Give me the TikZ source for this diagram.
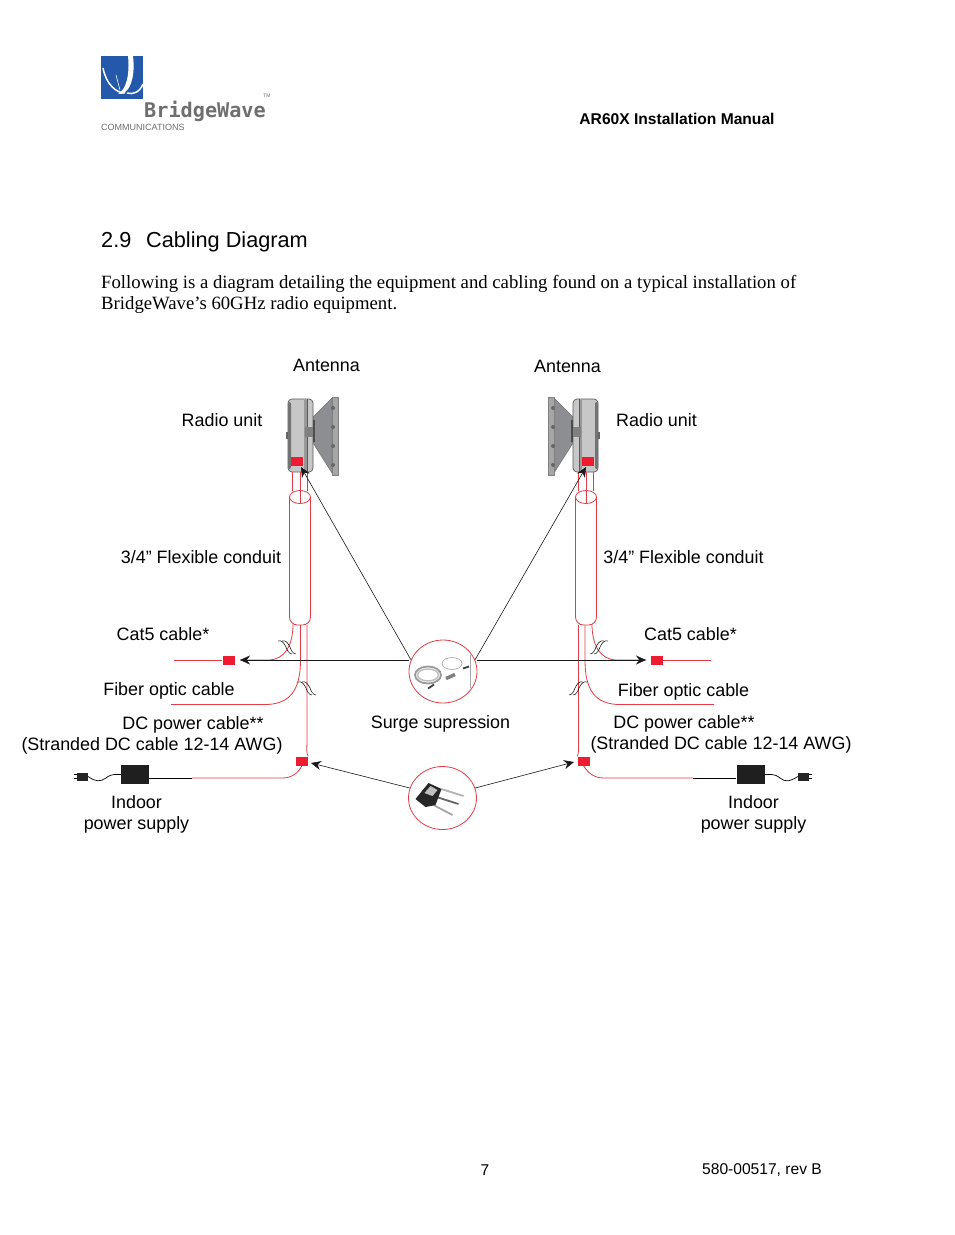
\documentclass[tikz,border=0pt]{standalone}
\usepackage{fontspec}
\setmainfont{Liberation Sans}
\newfontfamily\bodyfont{Liberation Serif}
\newfontfamily\logofont{DejaVu Sans Mono}
\usetikzlibrary{arrows.meta,positioning,calc,shapes.geometric}
\definecolor{cablered}{RGB}{226,60,70}
\definecolor{plugred}{RGB}{237,28,48}
\definecolor{logoblue}{RGB}{35,88,170}
\definecolor{logogray}{RGB}{110,110,112}
\definecolor{unitgray}{RGB}{140,142,146}
\newcommand{\sz}[1]{\fontsize{#1}{#1}\selectfont}
\tikzset{
	lbl/.style={inner sep=0pt,font=\sz{17.9}},
	lblc/.style={inner sep=0pt,align=center,font=\fontsize{17.9}{21}\selectfont},
	body/.style={inner sep=0pt,anchor=base west,font=\bodyfont\sz{18.73}},
	cable/.style={cablered,line width=0.8pt},
	wire/.style={black,line width=0.7pt},
	lead/.style={-{Stealth[length=10pt,width=9pt]},black!90,line width=0.6pt},
	plug/.style={fill=plugred,draw=none,inner sep=0pt,minimum width=12pt,minimum height=9pt},
	supply/.style={fill=black!88,draw=none,inner sep=0pt,minimum width=28pt,minimum height=19pt},
	adapter/.style={fill=black!85,draw=none,inner sep=0pt,minimum width=11pt,minimum height=8pt},
	surgering/.style={ellipse,draw=cablered,line width=0.8pt,inner sep=0pt,minimum width=68pt,minimum height=63pt},
	brk/.style={black,line width=0.5pt},
}
\newcommand{\radiounit}[2]{% x of the axis, direction of the horn
	\begin{scope}[shift={(#1,0)},xscale=#2]
		\draw[black!55,fill=unitgray,line width=0.5pt] (13,417) -- (32,398) -- (32,473) -- (13,443) -- cycle;
		\draw[black!50,fill=black!35,line width=0.5pt] (32,397) rectangle (38,475);
		\foreach \yy in {408,427,446,465} {
			\fill[black!60] (33,\yy) circle (2);
		}
		\draw[black!65,fill=black!22,line width=0.7pt,rounded corners=4pt] (-12,399) rectangle (13,472);
		\fill[black!55,rounded corners=2pt] (-12,402) rectangle (-9,469);
		\fill[black!40] (4,400) rectangle (7,471);
		\draw[black!65,line width=0.5pt] (7,399) -- (7,472);
		\fill[black!50] (5,427) rectangle (13,437);
		\fill[black!60] (-14,432) rectangle (-12,439);
		\fill[black!70] (13,420) rectangle (15,442);
	\end{scope}
}
\newcommand{\breakmark}[3]{% x, y, sign of the slant
	\draw[brk,shift={(#1,#2)},xscale=#3] (-9,-7) .. controls (-5,-8) and (-3,-5) .. (-1,-1) .. controls (0,2) and (2,6) .. (5,6);
	\draw[brk,shift={(#1,#2)},xscale=#3] (-5,-7) .. controls (-1,-8) and (1,-5) .. (3,-1) .. controls (4,2) and (6,6) .. (9,6);
}
\begin{document}
\begin{tikzpicture}[x=1pt,y=-1pt]
	\useasboundingbox (0,0) rectangle (954,1235);
	% logo
	\fill[logoblue] (101,56) rectangle (143,99);
	\draw[white,line width=1.5pt] (103,68) .. controls (106,84) and (116,93) .. (125,93);
	\fill[white] (128,56) .. controls (130,75) and (126,90) .. (118,94) .. controls (128,96) and (136,80) .. (133,56) -- cycle;
	\draw[white,line width=1.5pt] (143,84) .. controls (140,92) and (133,95) .. (127,93);
	\draw[white,line width=0.6pt] (116,75) -- (120,90);
	\node[inner sep=0pt,anchor=base west,text=logogray,font=\logofont\bfseries\sz{20.2}] (brand) at (144,117) {BridgeWave};
	\node[inner sep=0pt,anchor=base west,text=logogray,font=\sz{9}] (comm) at (101,130) {COMMUNICATIONS};
	\node[inner sep=0pt,text=logogray,font=\sz{5}] (tm) at (267,96) {TM};
	% page text
	\node[inner sep=0pt,font=\bfseries\sz{15.6}] (title) at (677,118.5) {AR60X Installation Manual};
	\node[inner sep=0pt,anchor=base west,font=\sz{21.7}] (secnum) at (101,247) {2.9};
	\node[inner sep=0pt,anchor=base west,font=\sz{21.7}] (sectitle) at (146,247) {Cabling Diagram};
	\node[body] (para1) at (101,288) {Following is a diagram detailing the equipment and cabling found on a typical installation of};
	\node[body] (para2) at (101,309) {BridgeWave’s 60GHz radio equipment.};
	\node[inner sep=0pt,font=\sz{15.6}] (pagenum) at (485,1170.5) {7};
	\node[inner sep=0pt,font=\sz{15.6}] (docnum) at (762,1170.5) {580-00517, rev B};
	% radio units
	\radiounit{300}{1}
	\radiounit{586}{-1}
	\node[plug] (plugA) at (296.5,461) {};
	\node[plug] (plugB) at (588,461) {};
	% labels
	\node[lbl] (antennaA) at (326.5,365) {Antenna};
	\node[lbl] (antennaB) at (567.5,366) {Antenna};
	\node[lbl] (radioA) at (222,420) {Radio unit};
	\node[lbl] (radioB) at (656.5,420) {Radio unit};
	\node[lbl] (conduitA) at (201,557) {3/4” Flexible conduit};
	\node[lbl] (conduitB) at (683.5,557) {3/4” Flexible conduit};
	\node[lbl] (catA) at (163,634) {Cat5 cable*};
	\node[lbl] (catB) at (690.5,634) {Cat5 cable*};
	\node[lbl] (fiberA) at (169,691) {Fiber optic cable};
	\node[lbl] (fiberB) at (683.5,692) {Fiber optic cable};
	\node[lbl] (dcA) at (193,725) {DC power cable**};
	\node[lbl] (dcB) at (684,724) {DC power cable**};
	\node[lbl] (awgA) at (152,746) {(Stranded DC cable 12-14 AWG)};
	\node[lbl] (awgB) at (721,745) {(Stranded DC cable 12-14 AWG)};
	\node[lblc] (indoorA) at (136.5,814.5) {Indoor\\power supply};
	\node[lblc] (indoorB) at (753.5,814.5) {Indoor\\power supply};
	\node[lbl] (surgelbl) at (440.5,724) {Surge supression};
	% conduits
	\foreach \cx/\nm in {300/A,586/B} {
		\draw[cable] (\cx-10.5,497) arc[start angle=180,end angle=-180,x radius=10.5,y radius=6.5];
		\draw[cable,rounded corners=8pt] (\cx-10.5,497) -- (\cx-10.5,625) -- (\cx+10.5,625) -- (\cx+10.5,497);
		\draw[cable] (\cx-7.5,472) -- (\cx-7.5,491) (\cx,472) -- (\cx,503) (\cx+7.5,472) -- (\cx+7.5,491);
	}
	% connectors
	\node[surgering] (surgering) at (443,671.5) {};
	\node[surgering] (dcring) at (442.5,798) {};
	\node[plug] (catplugA) at (228.5,660) {};
	\node[plug] (catplugB) at (657,660) {};
	\node[plug] (dcplugA) at (302,761) {};
	\node[plug] (dcplugB) at (583.5,761) {};
	\node[supply] (supplyA) at (135,774.5) {};
	\node[supply] (supplyB) at (750.5,774.5) {};
	\node[adapter] (adapterA) at (82.5,776.5) {};
	\node[adapter] (adapterB) at (803.5,776.5) {};
	\coordinate (endcatA) at (174,660);
	\coordinate (endcatB) at (711,660);
	\coordinate (endfiberA) at (171,704.5);
	\coordinate (endfiberB) at (714,704.5);
	\coordinate (redA) at (192,778);
	\coordinate (redB) at (693,778);
	\coordinate (tipcatA) at (240,660);
	\coordinate (tipcatB) at (646,660);
	\coordinate (tipradioA) at (301,467);
	\coordinate (tipradioB) at (586,467);
	\coordinate (tipdcA) at (311,763);
	\coordinate (tipdcB) at (574,762);
	\coordinate (ringcatA) at (surgering.west |- tipcatA);
	\coordinate (ringcatB) at (surgering.east |- tipcatB);
	% red cables
	\draw[cable] (endcatA) -- (catplugA);
	\draw[cable] (catplugB) -- (endcatB);
	\draw[cable] (293,624) .. controls (293,645) and (285,660) .. (268,660) -- (tipcatA);
	\draw[cable] (592,624) .. controls (592,645) and (600,660) .. (617,660) -- (tipcatB);
	\draw[cable] (300.5,625) -- (300.5,660) .. controls (300.5,690) and (290,704.5) .. (265,704.5) -- (endfiberA);
	\draw[cable] (585,625) -- (585,660) .. controls (585,690) and (595,704.5) .. (620,704.5) -- (endfiberB);
	\draw[cable] (307,625) -- (307,740) .. controls (307,748) and (306,753) .. (dcplugA.north east);
	\draw[cable] (578.5,625) -- (578.5,740) .. controls (578.5,748) and (579,753) .. (dcplugB.north west);
	\draw[cable] (dcplugA.south) .. controls (298,773) and (292,778) .. (282,778) -- (redA);
	\draw[cable] (dcplugB.south) .. controls (588,773) and (594,778) .. (604,778) -- (redB);
	% black wires
	\draw[wire] (redA) -- (supplyA.east |- redA);
	\draw[wire] (redB) -- (supplyB.west |- redB);
	\draw[wire] (adapterA.east) .. controls (96,782) and (100,782) .. (106,778) .. controls (112,773) and (116,775) .. (supplyA.west);
	\draw[wire] (adapterB.west) .. controls (789,782) and (785,782) .. (780,778) .. controls (774,773) and (770,775) .. (supplyB.east);
	\draw[wire] (adapterA.west) ++(0,-2) -- ++(-3,0) ++(3,4) -- ++(-3,0);
	\draw[wire] (adapterB.east) ++(0,-2) -- ++(3,0) ++(-3,4) -- ++(3,0);
	% break marks
	\breakmark{287}{648}{1}
	\breakmark{307}{689}{1}
	\breakmark{599}{648}{-1}
	\breakmark{578}{689}{-1}
	% leaders
	\path[lead]
	(ringcatA) edge (tipcatA)
	(ringcatB) edge (tipcatB)
	(surgering.160) edge (tipradioA)
	(surgering.20) edge (tipradioB)
	(dcring.163) edge (tipdcA)
	(dcring.17) edge (tipdcB);
	% surge kit
	\begin{scope}[shift={(surgering.center)}]
		\draw[black!40,line width=1.8pt] (-15,3.5) ellipse (13 and 8.5);
		\draw[black!25,line width=1.5pt] (-15,3.5) ellipse (10.5 and 6);
		\draw[black!30,line width=0.8pt] (9,-8) ellipse (10 and 6);
		\draw[black!50,line width=3.5pt] (3,7) -- (12,3);
		\draw[black!75,line width=1.8pt] (-15,17) -- (-9,13);
		\draw[black!75,line width=1.8pt] (20,-3) -- (26,-5);
		\draw[black!35,line width=0.5pt] (27,-17) -- (27,16);
	\end{scope}
	% surge protector
	\begin{scope}[shift={(dcring.center)}]
		\draw[black!30,line width=1.8pt] (-1,-9) -- (21,-2);
		\draw[black!60,line width=1.8pt] (-6,-1) -- (16,6);
		\draw[black!35,line width=1.8pt] (-11,6) -- (10,17);
		\fill[black!85] (-27,1) -- (-14,-15) -- (-1,-9) -- (-7,7) -- (-17,9) -- cycle;
		\fill[black!25] (-18,-5) -- (-12,-12) -- (-5,-8) -- (-10,-2) -- cycle;
	\end{scope}
\end{tikzpicture}
\end{document}
